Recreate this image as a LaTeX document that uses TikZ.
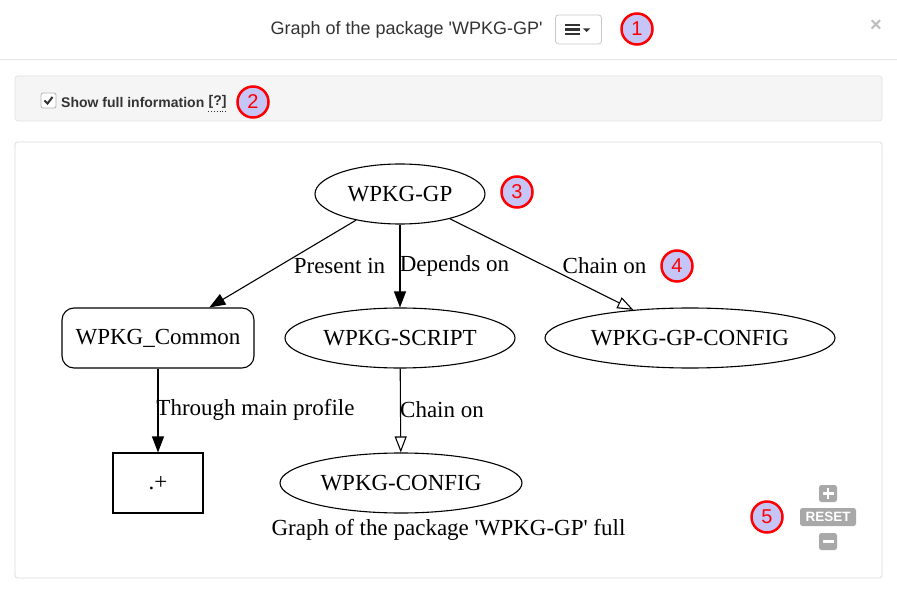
\documentclass[tikz,border=0pt]{standalone}
\usepackage{fontspec}
\setmainfont{Liberation Sans}
\newfontfamily\uifont{Liberation Sans}
\newfontfamily\graphfont{Liberation Serif}
\usetikzlibrary{shapes.geometric,arrows.meta}
\definecolor{badgefill}{HTML}{C5C5F8}
\definecolor{txtdark}{HTML}{333333}
\definecolor{panelfill}{HTML}{F5F5F5}
\definecolor{panelline}{HTML}{E3E3E3}
\definecolor{sepline}{HTML}{E5E5E5}
\definecolor{zoomgrey}{HTML}{A8A8A8}
\definecolor{closegrey}{HTML}{BDBDBD}
\begin{document}
\begin{tikzpicture}[x=1pt,y=-1pt,
  gfont/.style={font=\graphfont\fontsize{23}{26}\selectfont},
  gnode/.style={gfont, draw=black, line width=1.1pt, inner sep=0pt},
  gell/.style={gnode, ellipse, minimum height=60pt},
  glabel/.style={gfont, inner sep=0pt},
  farrow/.style={-{Triangle[length=16pt,width=12pt]}, line width=1.1pt},
  oarrow/.style={-{Triangle[open,length=16pt,width=12pt]}, line width=1.1pt},
  badge/.style={circle, draw=red, line width=2.5pt, fill=badgefill, minimum size=31pt,
    inner sep=0pt, text=red, font=\uifont\fontsize{20}{22}\selectfont},
  panel/.style={rounded corners=3pt, line width=0.8pt},
  zoombtn/.style={fill=zoomgrey, rounded corners=2.5pt, inner sep=0pt, text=white}]
\useasboundingbox (0,0) rectangle (897,612);
\fill[white] (0,0) rectangle (897,612);

% header
\draw[sepline, line width=1pt] (0,60) -- (897,60);
\node[text=txtdark, font=\uifont\fontsize{18}{22}\selectfont, inner sep=0pt] (title) at (406.5,30) {Graph of the package 'WPKG-GP'};
\node[draw=black!22, rounded corners=3pt, line width=0.8pt, minimum width=46pt, minimum height=29pt, inner sep=0pt] (menu) at (578.5,29.5) {};
\draw[txtdark, line width=2.2pt] (565,25) -- (580,25) (565,29.5) -- (580,29.5) (565,34) -- (580,34);
\fill[txtdark] (583,28.5) -- (590,28.5) -- (586.5,32) -- cycle;
\node[badge] (b1) at (637,29) {1};
\node[text=closegrey, font=\uifont\bfseries\fontsize{20}{22}\selectfont, inner sep=0pt] (close) at (876,26) {×};

% panel 1
\draw[panel, draw=panelline, fill=panelfill] (15,76) rectangle (882,121);
\node[draw=black!30, fill=white, rounded corners=2pt, minimum size=15pt, inner sep=0pt, line width=0.8pt] (cb) at (48.5,100.5) {};
\draw[txtdark, line width=2pt] (44.5,100.5) -- (47.5,103.5) -- (52.5,97);
\node[anchor=west, text=txtdark, font=\uifont\bfseries\fontsize{14}{16}\selectfont, inner sep=0pt] (show) at (61,102) {Show full information};
\node[anchor=west, text=txtdark, font=\uifont\bfseries\fontsize{14}{16}\selectfont, inner sep=0pt] (help) at ([xshift=4pt]show.east) {[?]};
\draw[txtdark, dotted, line width=0.8pt] ([yshift=-3pt]help.south west) -- ([yshift=-3pt]help.south east);
\node[badge] (b2) at (253,102) {2};

% panel 2
\draw[panel, draw=black!14, fill=white] (15,142) rectangle (882,578);

% graph
\node[gell, minimum width=170pt] (gp) at (400,194) {WPKG-GP};
\node[gnode, rounded corners=12pt, minimum width=192pt, minimum height=60pt] (common) at (158,338) {WPKG\_Common};
\node[gell, minimum width=230pt] (script) at (400,338) {WPKG-SCRIPT};
\node[gell, minimum width=290pt] (gpconfig) at (690,338) {WPKG-GP-CONFIG};
\node[gnode, minimum width=90pt, minimum height=60pt] (plus) at (158,483) {.+};
\node[gell, minimum width=242pt] (config) at (401,483) {WPKG-CONFIG};
\node[glabel] (caption) at (448.5,530) {Graph of the package 'WPKG-GP' full};

\draw[farrow] (gp) -- (common);
\draw[farrow] (gp) -- (script);
\draw[oarrow] (gp) -- (gpconfig);
\draw[farrow] (common) -- (plus);
\draw[oarrow] (script) -- (config);

\node[glabel] (l1) at (339.5,266) {Present in};
\node[glabel] (l2) at (454.5,266) {Depends on};
\node[glabel] (l3) at (604.5,266) {Chain on};
\node[glabel] (l4) at (255.5,410) {Through main profile};
\node[glabel] (l5) at (442,410) {Chain on};

\node[badge] (b3) at (517,192) {3};
\node[badge] (b4) at (677,266) {4};
\node[badge] (b5) at (767,517) {5};

% zoom controls
\node[zoombtn, minimum width=18pt, minimum height=17pt] (zin) at (828,493.5) {};
\draw[white, line width=2.6pt] (822.5,493.5) -- (833.5,493.5) (828,488) -- (828,499);
\node[zoombtn, minimum width=56pt, minimum height=18pt, font=\uifont\bfseries\fontsize{13.5}{15}\selectfont] (reset) at (828,517) {RESET};
\node[zoombtn, minimum width=18pt, minimum height=17pt] (zout) at (828,541.5) {};
\draw[white, line width=2.6pt] (822.5,541.5) -- (833.5,541.5);
\end{tikzpicture}
\end{document}
